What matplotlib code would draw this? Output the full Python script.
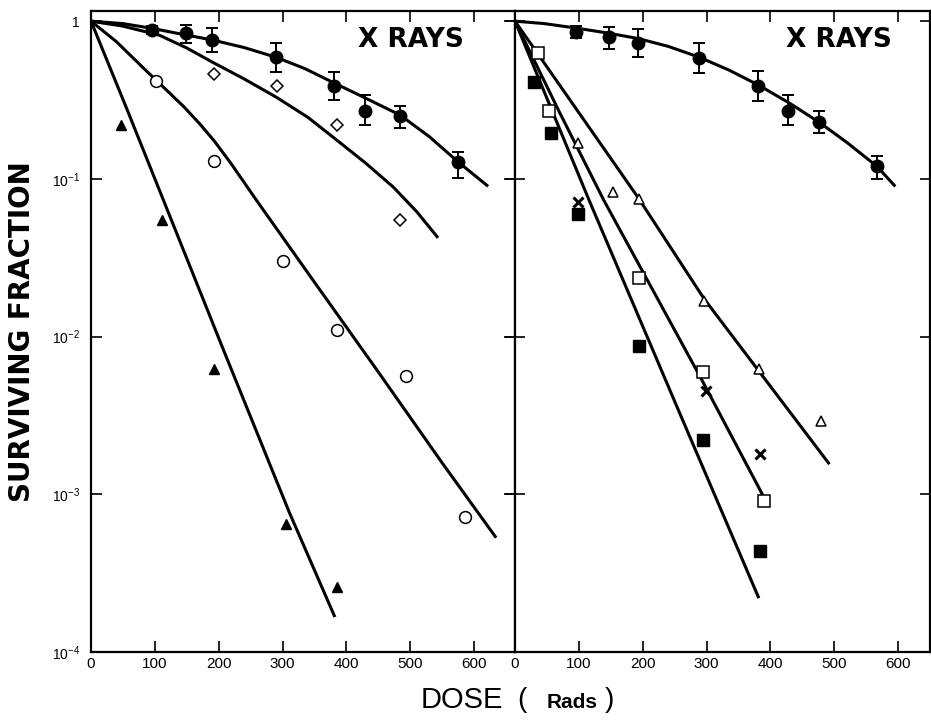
import matplotlib
matplotlib.use("Agg")
import matplotlib.pyplot as plt
from matplotlib.ticker import NullLocator

plt.rcParams["font.family"] = "Liberation Sans"
plt.rcParams["mathtext.fontset"] = "custom"
plt.rcParams["mathtext.rm"] = "Liberation Sans"

# ---- left panel ----
ctrl_dose_l = [96, 149, 190, 290, 381, 429, 484, 575]
ctrl_sf_l = [0.88, 0.84, 0.76, 0.59, 0.39, 0.27, 0.25, 0.128]
ctrl_hi_l = [0.93, 0.94, 0.90, 0.725, 0.475, 0.34, 0.29, 0.149]
ctrl_lo_l = [0.83, 0.73, 0.64, 0.476, 0.316, 0.22, 0.21, 0.101]
ctrl_fit_dose_l = [0, 50, 96, 140, 190, 240, 290, 335, 381, 430, 484, 530, 575, 620]
ctrl_fit_sf_l = [1.0, 0.965, 0.90, 0.83, 0.76, 0.68, 0.59, 0.50, 0.405, 0.325, 0.254, 0.185, 0.128, 0.091]

diam_dose = [193, 292, 385, 484]
diam_sf = [0.46, 0.39, 0.22, 0.055]
diam_fit_dose = [0, 50, 107, 150, 190, 240, 290, 340, 385, 430, 473, 510, 542]
diam_fit_sf = [1.0, 0.93, 0.815, 0.676, 0.55, 0.43, 0.33, 0.245, 0.176, 0.126, 0.089, 0.062, 0.043]

ocirc_dose = [102, 193, 300, 385, 493, 586]
ocirc_sf = [0.42, 0.13, 0.030, 0.011, 0.0056, 7.2e-4]
ocirc_fit_dose = [0, 40, 83, 120, 146, 170, 193, 220, 259, 350, 450, 550, 633]
ocirc_fit_sf = [1.0, 0.74, 0.50, 0.36, 0.285, 0.224, 0.174, 0.124, 0.0733, 0.0221, 0.00596, 0.00158, 5.4e-4]

ftri_dose = [47, 111, 193, 305, 385]
ftri_sf = [0.22, 0.055, 0.0062, 6.5e-4, 2.6e-4]
ftri_fit_dose = [0, 55, 107, 206, 311, 381]
ftri_fit_sf = [1.0, 0.285, 0.0851, 0.00851, 7.6e-4, 1.7e-4]

# ---- right panel ----
ctrl_dose_r = [96, 147, 193, 288, 381, 428, 476, 567]
ctrl_sf_r = [0.85, 0.79, 0.73, 0.58, 0.39, 0.27, 0.23, 0.12]
ctrl_hi_r = [0.93, 0.92, 0.89, 0.73, 0.48, 0.34, 0.27, 0.14]
ctrl_lo_r = [0.78, 0.67, 0.59, 0.47, 0.31, 0.22, 0.195, 0.10]
ctrl_fit_dose_r = [0, 45, 96, 145, 193, 240, 288, 335, 381, 430, 476, 520, 567, 594]
ctrl_fit_sf_r = [1.0, 0.966, 0.904, 0.841, 0.776, 0.692, 0.592, 0.49, 0.394, 0.302, 0.229, 0.17, 0.12, 0.091]

otri_dose = [99, 154, 194, 296, 382, 480]
otri_sf = [0.17, 0.082, 0.074, 0.0167, 0.0062, 0.0029]
otri_fit_dose = [0, 100, 193, 296, 491]
otri_fit_sf = [1.0, 0.263, 0.0759, 0.0174, 0.00158]

osq_dose = [36, 53, 194, 295, 390]
osq_sf = [0.63, 0.27, 0.0236, 0.006, 9.1e-4]
osq_fit_dose = [0, 70, 139, 292, 390]
osq_fit_sf = [1.0, 0.263, 0.0733, 0.00537, 9.55e-4]

fsq_dose = [30, 56, 99, 194, 295, 384]
fsq_sf = [0.41, 0.195, 0.06, 0.0087, 0.0022, 4.4e-4]
fsq_fit_dose = [0, 116, 250, 381]
fsq_fit_sf = [1.0, 0.0733, 0.00389, 2.24e-4]

cross_dose = [99, 299, 384]
cross_sf = [0.071, 0.0045, 0.0018]

yticks = [1, 1e-1, 1e-2, 1e-3, 1e-4]
ytick_labels = ["1", r"$\mathregular{10^{-1}}$", r"$\mathregular{10^{-2}}$",
                r"$\mathregular{10^{-3}}$", r"$\mathregular{10^{-4}}$"]
xticks = [0, 100, 200, 300, 400, 500, 600]

fig = plt.figure(figsize=(9.31, 7.22), dpi=100)
ax1 = fig.add_axes([91 / 931, 70 / 722, 424 / 931, 641 / 722])
ax2 = fig.add_axes([515 / 931, 70 / 722, 415 / 931, 641 / 722])

lw = 2.2
k = "black"


def ctrl(ax, d, s, lo, hi):
    yerr = [[v - l for v, l in zip(s, lo)], [h - v for v, h in zip(s, hi)]]
    ax.errorbar(d, s, yerr=yerr, fmt="o", color=k, ms=9, capsize=4, elinewidth=1.4, capthick=1.4)


ax1.plot(ctrl_fit_dose_l, ctrl_fit_sf_l, color=k, lw=lw)
ax1.plot(diam_fit_dose, diam_fit_sf, color=k, lw=lw)
ax1.plot(ocirc_fit_dose, ocirc_fit_sf, color=k, lw=lw)
ax1.plot(ftri_fit_dose, ftri_fit_sf, color=k, lw=lw)
ctrl(ax1, ctrl_dose_l, ctrl_sf_l, ctrl_lo_l, ctrl_hi_l)
ax1.plot(diam_dose, diam_sf, "D", ms=6.5, mfc="white", mec=k, mew=1.1, ls="none")
ax1.plot(ocirc_dose, ocirc_sf, "o", ms=8.5, mfc="white", mec=k, mew=1.1, ls="none")
ax1.plot(ftri_dose, ftri_sf, "^", ms=7, color=k, ls="none")

ax2.plot(ctrl_fit_dose_r, ctrl_fit_sf_r, color=k, lw=lw)
ax2.plot(otri_fit_dose, otri_fit_sf, color=k, lw=lw)
ax2.plot(osq_fit_dose, osq_fit_sf, color=k, lw=lw)
ax2.plot(fsq_fit_dose, fsq_fit_sf, color=k, lw=lw)
ctrl(ax2, ctrl_dose_r, ctrl_sf_r, ctrl_lo_r, ctrl_hi_r)
ax2.plot(otri_dose, otri_sf, "^", ms=7, mfc="white", mec=k, mew=1.1, ls="none")
ax2.plot(osq_dose, osq_sf, "s", ms=8, mfc="white", mec=k, mew=1.1, ls="none")
ax2.plot(fsq_dose, fsq_sf, "s", ms=8, color=k, ls="none")
ax2.plot(cross_dose, cross_sf, "x", ms=7, color=k, mew=2.2, ls="none")

for ax, xmax, tx in ((ax1, 664, 0.755), (ax2, 650, 0.78)):
    ax.set_yscale("log")
    ax.set_ylim(1e-4, 1.16)
    ax.set_xlim(0, xmax)
    ax.set_xticks(xticks)
    ax.set_xticklabels([str(t) for t in xticks], fontsize=11)
    ax.set_yticks(yticks)
    ax.yaxis.set_minor_locator(NullLocator())
    ax.xaxis.set_minor_locator(NullLocator())
    ax.tick_params(top=True, right=True, length=8, width=1.2, direction="in")
    for sp in ax.spines.values():
        sp.set_linewidth(1.6)
    ax.text(tx, 0.955, "X RAYS", transform=ax.transAxes, fontsize=19,
            fontweight="bold", family="DejaVu Sans", ha="center", va="center")

ax1.set_yticklabels(ytick_labels, fontsize=10)
ax1.tick_params(axis="y", pad=8)
ax2.set_yticklabels([])
ax2.tick_params(axis="y", direction="inout", length=14)

fig.text(22 / 931, 1 - 332 / 722, "SURVIVING FRACTION", rotation=90, fontsize=20,
         fontweight="bold", family="DejaVu Sans", ha="center", va="center")
fig.text(462 / 931, 1 - 700 / 722, "DOSE", fontsize=21, ha="center", va="center")
fig.text(522 / 931, 1 - 700 / 722, "(", fontsize=20, ha="center", va="center")
fig.text(572 / 931, 1 - 702 / 722, "Rads", fontsize=15, fontweight="bold", ha="center", va="center")
fig.text(609 / 931, 1 - 700 / 722, ")", fontsize=20, ha="center", va="center")

fig.savefig("out.png", dpi=100)
